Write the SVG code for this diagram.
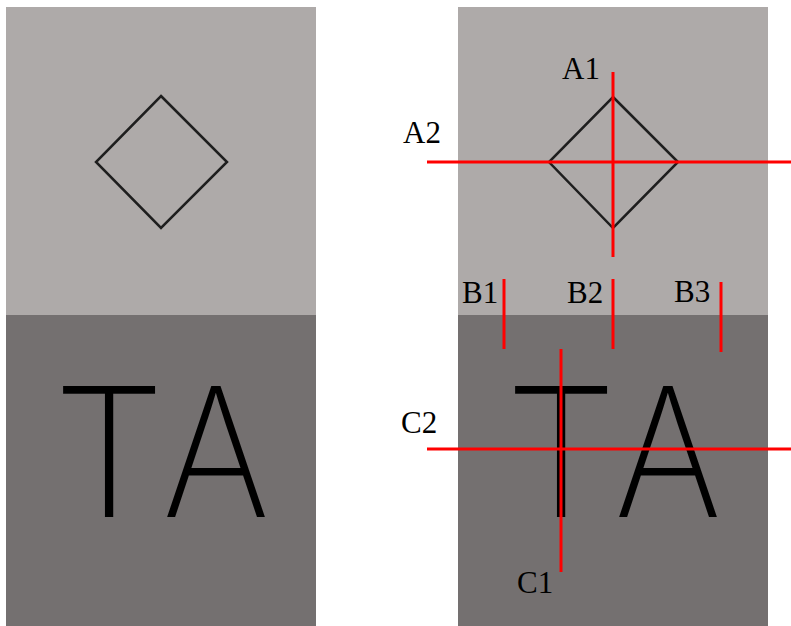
<svg xmlns="http://www.w3.org/2000/svg" width="791" height="626" viewBox="0 0 791 626">
<style>
.light{fill:#aeaaa9}
.dark{fill:#747070}
.dia{fill:none;stroke:#1e1e1e;stroke-width:2.5}
.ta{font-family:Inter,"Noto Sans",sans-serif;font-weight:200;font-size:180px;fill:#000;text-anchor:middle}
.red{stroke:#ff0000;stroke-width:3;fill:none}
.lbl{font-family:"Liberation Serif",serif;font-size:31px;fill:#000}
</style>
<rect width="791" height="626" fill="#fff"/>
<g id="left-panel">
<rect class="light" x="6" y="7" width="310" height="308"/>
<rect class="dark" x="6" y="315" width="310" height="311"/>
<polygon class="dia" points="161,96 227,162 161,228 96,162"/>
<text class="ta" x="109" y="517">T</text>
<text class="ta" transform="translate(216,517) scale(0.91,1)" x="0" y="0">A</text>
</g>
<g id="right-panel">
<rect class="light" x="458" y="7" width="310" height="308"/>
<rect class="dark" x="458" y="315" width="310" height="311"/>
<polygon class="dia" points="613,97 678,162 613,228 549,162"/>
<text class="ta" x="561" y="517">T</text>
<text class="ta" transform="translate(668,517) scale(0.91,1)" x="0" y="0">A</text>
</g>
<g id="connectors">
<line class="red" x1="613" y1="72" x2="613" y2="257"/>
<line class="red" x1="427" y1="162" x2="791" y2="162"/>
<line class="red" x1="504" y1="279" x2="504" y2="349"/>
<line class="red" x1="613" y1="279" x2="613" y2="349"/>
<line class="red" x1="721" y1="282" x2="721" y2="352"/>
<line class="red" x1="561" y1="349" x2="561" y2="572"/>
<line class="red" x1="427" y1="449" x2="791" y2="449"/>
</g>
<g id="labels">
<text class="lbl" x="562" y="79">A1</text>
<text class="lbl" x="403" y="143">A2</text>
<text class="lbl" x="462" y="303">B1</text>
<text class="lbl" x="567" y="303">B2</text>
<text class="lbl" x="674" y="302">B3</text>
<text class="lbl" x="401" y="433">C2</text>
<text class="lbl" x="517" y="593">C1</text>
</g>
</svg>
